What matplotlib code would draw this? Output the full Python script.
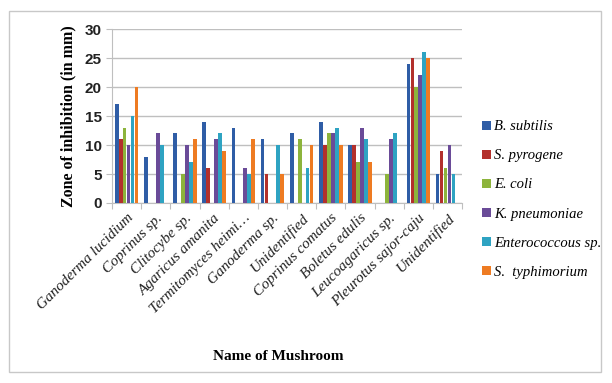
import matplotlib
matplotlib.use('Agg')
import matplotlib.pyplot as plt
from matplotlib.patches import Rectangle
import numpy as np

mushrooms = ['Ganoderma lucidium', 'Coprinus sp.', 'Clitocybe sp.', 'Agaricus amanita',
             'Termitomyces heimi…', 'Ganoderma sp.', 'Unidentified', 'Coprinus comatus',
             'Boletus edulis', 'Leucoagaricus sp.', 'Pleurotus sajor-caju', 'Unidentified']

series = ['B. subtilis', 'S. pyrogene', 'E. coli', 'K. pneumoniae', 'Enterococcous sp.', 'S.  typhimorium']

b_subtilis = [17, 8, 12, 14, 13, 11, 12, 14, 10, 0, 24, 5]
s_pyrogene = [11, 0, 0, 6, 0, 5, 0, 10, 10, 0, 25, 9]
e_coli = [13, 0, 5, 0, 0, 0, 11, 12, 7, 5, 20, 6]
k_pneumoniae = [10, 12, 10, 11, 6, 0, 0, 12, 13, 11, 22, 10]
enterococcous = [15, 10, 7, 12, 5, 10, 6, 13, 11, 12, 26, 5]
s_typhimorium = [20, 0, 11, 9, 11, 5, 10, 10, 7, 0, 25, 0]

values = [b_subtilis, s_pyrogene, e_coli, k_pneumoniae, enterococcous, s_typhimorium]
colors = ['#2F5DA6', '#B3302C', '#8DB43C', '#6A4B98', '#2EA3C2', '#EE7B22']

fig = plt.figure(figsize=(6.12, 3.83), dpi=100)
fig.patches.append(Rectangle((9 / 612, 11 / 383), 592 / 612, 361 / 383, transform=fig.transFigure,
                             fill=False, edgecolor='#C8C8C8', linewidth=1))
ax = fig.add_axes([0.183, 0.47, 0.572, 0.454])

x = np.arange(len(mushrooms))
w = 0.135
for i, (vals, c) in enumerate(zip(values, colors)):
    ax.bar(x + (i - 2.5) * w, vals, w * 0.95, color=c, label=series[i], zorder=3)

ax.set_xlim(-0.5, len(mushrooms) - 0.5)
ax.set_ylim(0, 30)
ax.set_yticks(range(0, 31, 5))
ax.yaxis.grid(True, color='#BFBFBF', linewidth=1, zorder=0)
for s in ['top', 'right']:
    ax.spines[s].set_visible(False)
ax.spines['left'].set_color('#BFBFBF')
ax.spines['bottom'].set_color('#BFBFBF')
ax.tick_params(axis='y', length=4, color='#BFBFBF', labelsize=11)
for lab in ax.get_yticklabels():
    lab.set_family('Liberation Sans')
    lab.set_weight('bold')
    lab.set_color('#222222')

ax.set_xticks(np.arange(len(mushrooms) + 1) - 0.5, minor=False)
ax.set_xticklabels([])
ax.tick_params(axis='x', length=4, color='#BFBFBF')
ax.set_xticks(x, minor=True)
ax.set_xticklabels(mushrooms, minor=True, rotation=45, ha='right', rotation_mode='anchor',
                   family='Liberation Serif', style='italic', fontsize=11, color='#222222')
ax.tick_params(axis='x', which='minor', length=0, pad=6)

ax.set_ylabel('Zone of inhibition (in mm)', family='Liberation Serif', weight='bold', fontsize=11.5,
              labelpad=6)
fig.text(0.455, 0.07, 'Name of Mushroom', family='Liberation Serif', weight='bold', fontsize=11,
         ha='center', va='center')

ax.legend(loc='center left', bbox_to_anchor=(1.02, 0.02), frameon=False, handlelength=0.6,
          handleheight=0.6, handletextpad=0.2, labelspacing=1.1,
          prop={'family': 'Liberation Serif', 'style': 'italic', 'size': 10.5})

fig.savefig('out.png', dpi=100)
